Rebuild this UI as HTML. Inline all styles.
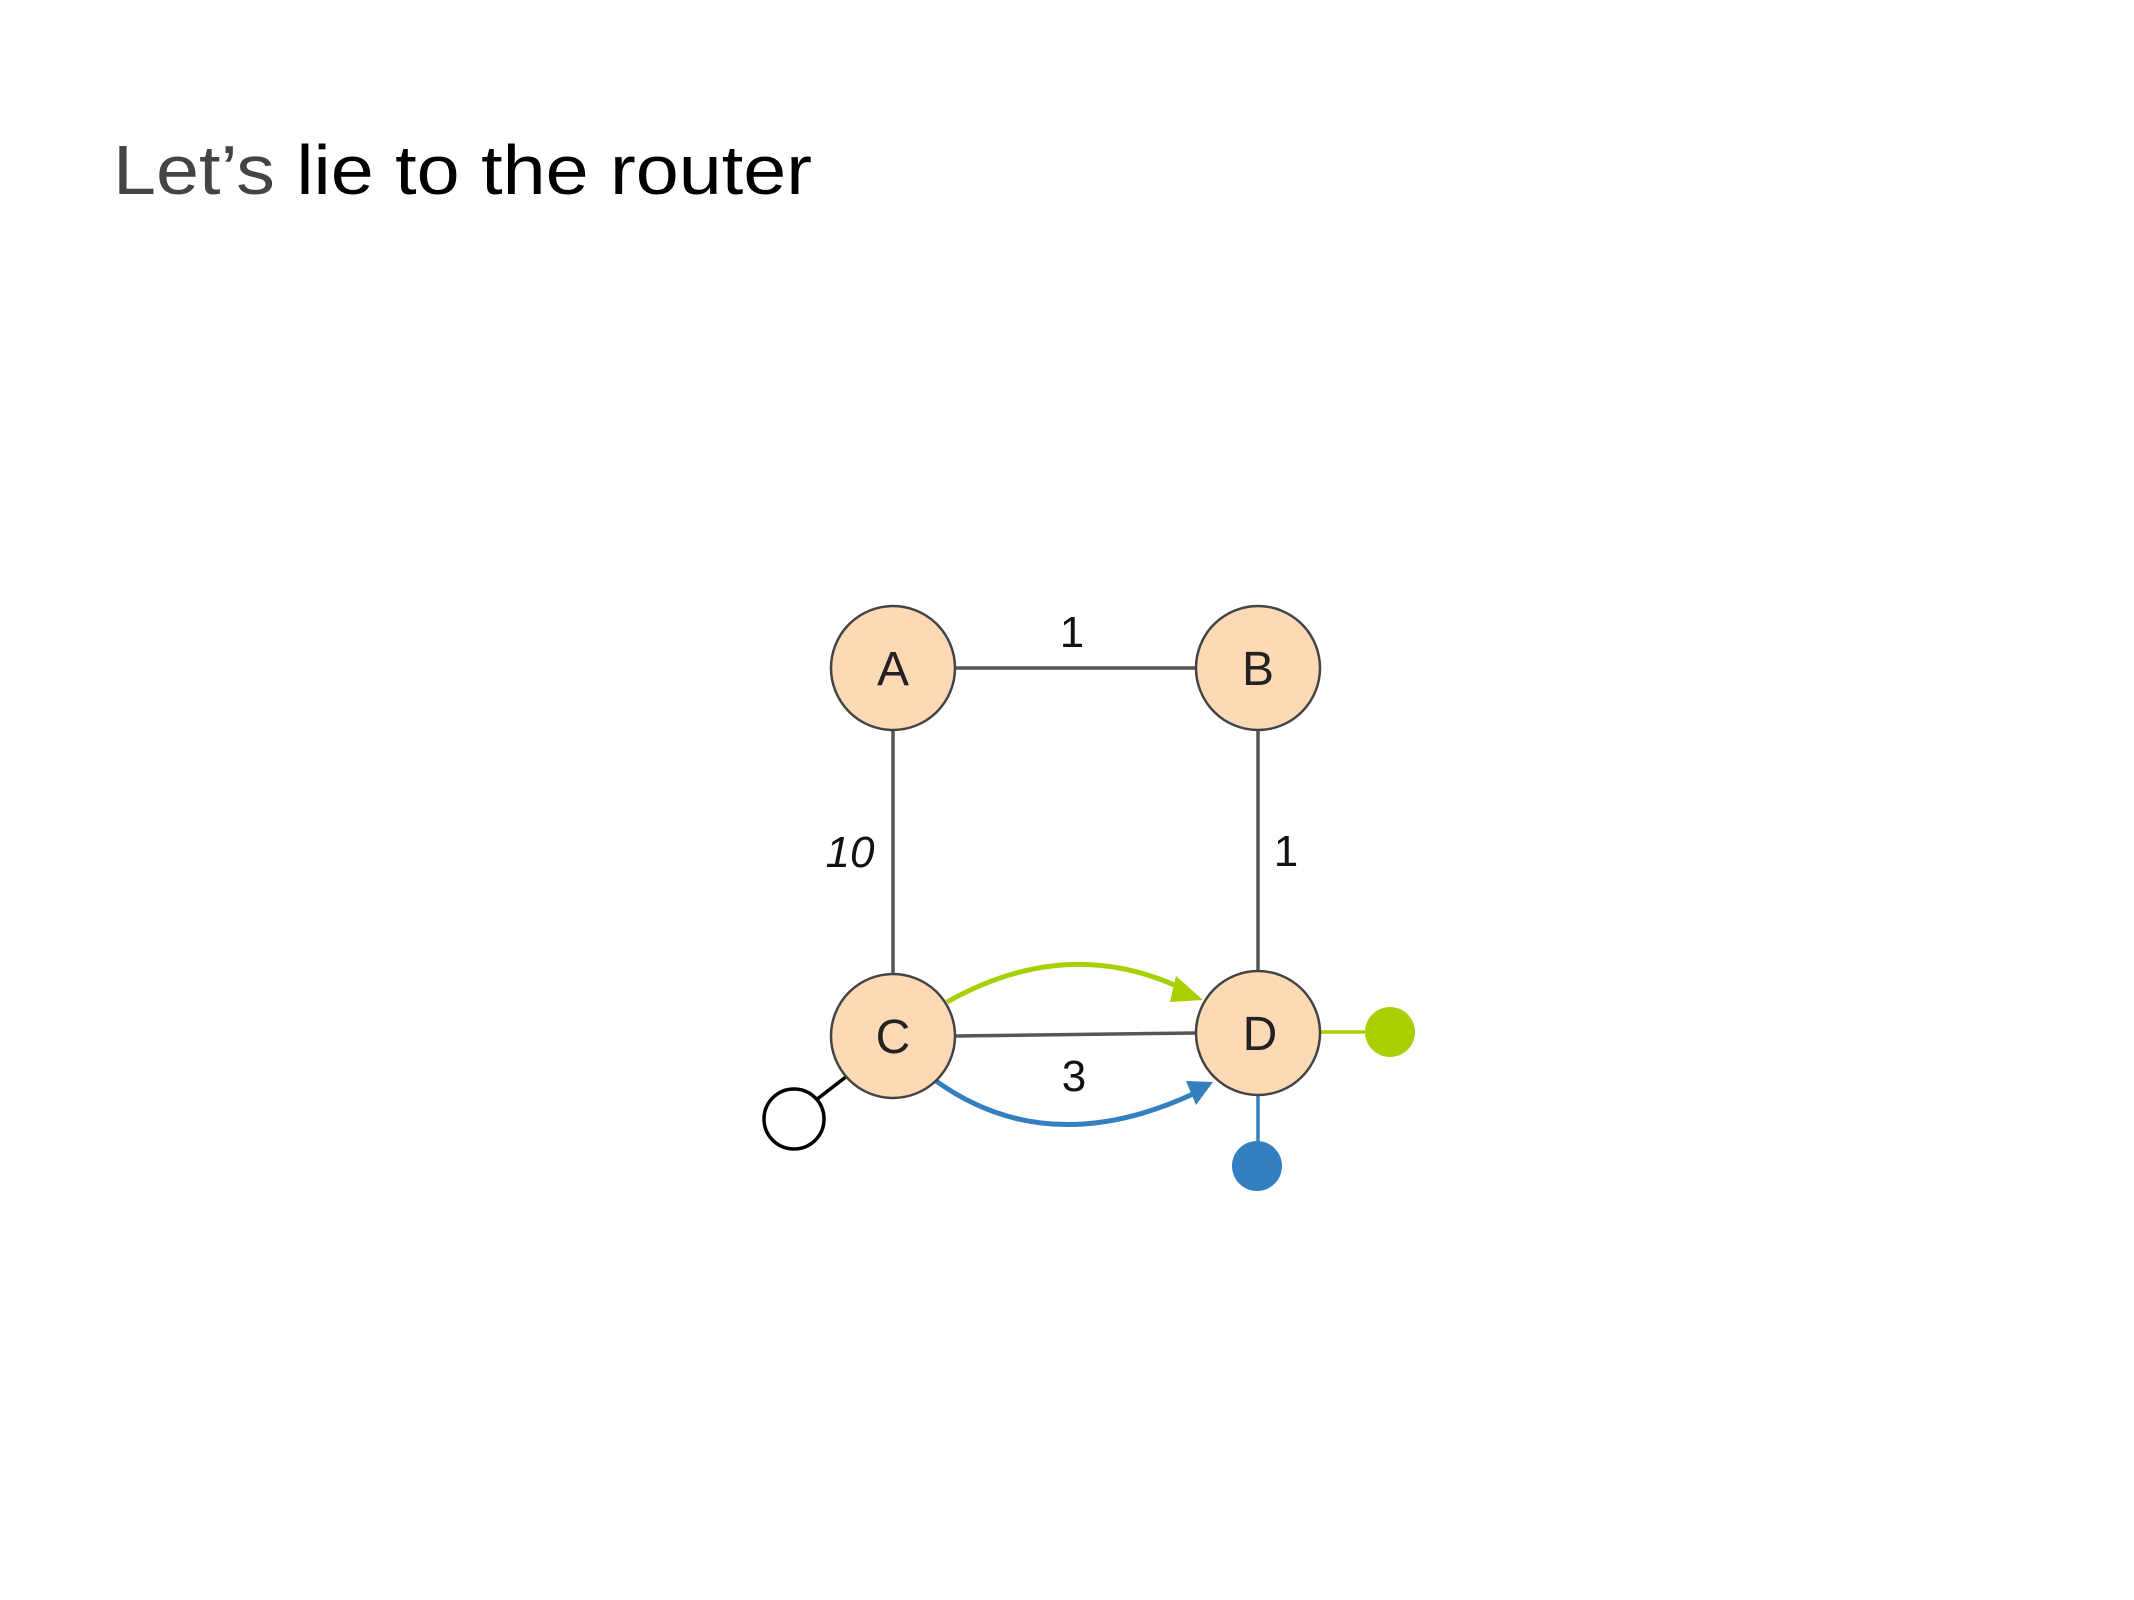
<!DOCTYPE html>
<html><head><meta charset="utf-8"><style>
html,body{margin:0;padding:0;background:#fff;}
svg{display:block;}
text{font-family:"Liberation Sans",sans-serif;}
</style></head><body>
<svg width="2134" height="1600" viewBox="0 0 2134 1600" xmlns="http://www.w3.org/2000/svg">
<text x="113" y="194" font-size="70" textLength="699" lengthAdjust="spacingAndGlyphs"><tspan fill="#444">Let’s</tspan><tspan fill="#000"> lie to the router</tspan></text>
<g transform="translate(-2,-1)">
<g stroke="#555" stroke-width="3.5" fill="none">
<line x1="957" y1="669" x2="1198" y2="669"/>
<line x1="895" y1="731" x2="895" y2="975"/>
<line x1="1260" y1="731" x2="1260" y2="972"/>
<line x1="957" y1="1037" x2="1198" y2="1034"/>
</g>
<path d="M949,1003 Q1070,935 1185,990" stroke="#a8d000" stroke-width="5" fill="none"/>
<path d="M1178,977 L1205,1001 L1172,1003 z" fill="#a8d000"/>
<path d="M938,1082 Q1050,1162 1195,1095" stroke="#347fc0" stroke-width="5" fill="none"/>
<path d="M1188,1082 L1215,1083 L1198,1106 z" fill="#347fc0"/>

<line x1="1322" y1="1033" x2="1370" y2="1033" stroke="#a8d000" stroke-width="3.5"/>
<circle cx="1392" cy="1033" r="25" fill="#a8d000"/>
<line x1="1260" y1="1096" x2="1260" y2="1145" stroke="#347fc0" stroke-width="3.5"/>
<circle cx="1259" cy="1167" r="25" fill="#347fc0"/>
<line x1="849" y1="1077" x2="818" y2="1101" stroke="#000" stroke-width="3.5"/>
<circle cx="796" cy="1120" r="30" fill="#fff" stroke="#000" stroke-width="3.5"/>

<g fill="#fdd9b5" stroke="#444" stroke-width="2.5">
<circle cx="895" cy="669" r="62"/>
<circle cx="1260" cy="669" r="62"/>
<circle cx="895" cy="1037" r="62"/>
<circle cx="1260" cy="1034" r="62"/>
</g>
<g font-size="48" fill="#222" text-anchor="middle">
<text x="895" y="686">A</text>
<text x="1260" y="686">B</text>
<text x="895" y="1054">C</text>
<text x="1262" y="1051">D</text>
</g>
<g font-size="44" fill="#111" text-anchor="middle">
<text x="1074" y="648">1</text>
<text x="852" y="868" font-style="italic">10</text>
<text x="1288" y="867">1</text>
<text x="1076" y="1092">3</text>
</g>
</g>
</svg>
</body></html>
